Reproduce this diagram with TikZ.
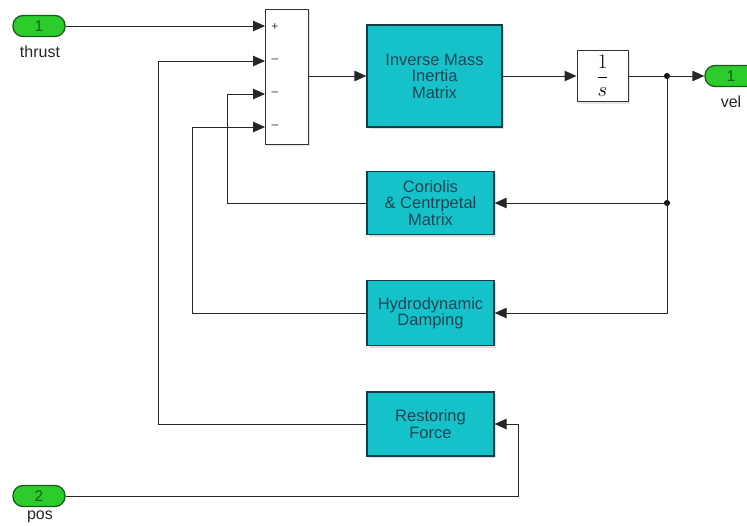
\documentclass[tikz,border=0pt]{standalone}
\usepackage{fontspec}
\setmainfont{Liberation Sans}
\usetikzlibrary{arrows.meta,shadows}
\definecolor{blkfill}{RGB}{22,194,202}
\definecolor{blkdraw}{RGB}{22,62,72}
\definecolor{blktext}{RGB}{26,70,84}
\definecolor{pillfill}{RGB}{44,204,44}
\definecolor{pilldraw}{RGB}{22,92,22}
\definecolor{pilltext}{RGB}{18,96,18}
\tikzset{
  blk/.style={draw=blkdraw, line width=1.3pt, fill=blkfill, text=blktext, align=center,
    inner sep=0pt, font=\fontsize{16.5}{16.5}\selectfont,
    drop shadow={opacity=0.25, shadow xshift=2pt, shadow yshift=-2pt}},
  wblk/.style={draw=black!80, line width=0.9pt, fill=white, inner sep=0pt,
    drop shadow={opacity=0.2, shadow xshift=2pt, shadow yshift=-2pt}},
  pill/.style={draw=pilldraw, line width=1.3pt, fill=pillfill, text=pilltext,
    rounded corners=10pt, minimum width=52pt, minimum height=21pt, inner sep=0pt,
    font=\fontsize{15.5}{15.5}\selectfont},
  lbl/.style={font=\fontsize{16}{16}\selectfont, text=black!85, inner sep=0pt},
  sgn/.style={font=\fontsize{12}{12}\selectfont, text=black!80, inner sep=0pt},
  wire/.style={draw=black!85, line width=0.9pt},
  arr/.style={wire, -{Triangle[length=12pt,width=10.5pt]}},
  bdot/.style={circle, fill=black, inner sep=0pt, minimum size=6pt}
}
\begin{document}
\begin{tikzpicture}[x=1pt,y=-1pt]
\useasboundingbox (0,0) rectangle (747,525);
\clip (0,0) rectangle (747,525);
% inports / outports
\node[pill] (in1) at (39,26) {1};
\node[lbl] (lthrust) at (40,52) {thrust};
\node[pill] (in2) at (39,496) {2};
\node[lbl] (lpos) at (40,517) {pos};
\node[pill] (out1) at (731,76) {1};
\node[lbl] (lvel) at (731,102) {vel};
% sum block
\node[wblk, minimum width=43pt, minimum height=135pt] (sum) at (286.5,76.5) {};
\coordinate (s1) at (265,26);
\coordinate (s2) at (265,61);
\coordinate (s3) at (265,94);
\coordinate (s4) at (265,127);
\coordinate (so) at (308,76);
\node[sgn] (p1) at (275,27) {+};
\node[sgn] (p2) at (275,61) {\textendash};
\node[sgn] (p3) at (275,94) {\textendash};
\node[sgn] (p4) at (275,127) {\textendash};
% main blocks
\node[blk, minimum width=135pt, minimum height=102pt] (inv) at (434.5,76) {Inverse Mass\\Inertia\\Matrix};
\node[wblk, minimum width=51pt, minimum height=51pt, font=\fontsize{21}{21}\selectfont] (integ) at (602.5,76) {$\displaystyle\frac{1}{s}$};
\node[bdot] (d1) at (667,76) {};
\node[bdot] (d2) at (667,203) {};
\node[blk, minimum width=127pt, minimum height=63pt] (cor) at (430.5,203) {Coriolis\\\& Centrpetal\\Matrix};
\node[blk, minimum width=127pt, minimum height=65pt] (hyd) at (430.5,313) {Hydrodynamic\\Damping};
\node[blk, minimum width=127pt, minimum height=64pt] (rest) at (430.5,424) {Restoring\\Force};
% connectors
\draw[arr] (in1.east) -- (s1);
\draw[arr] (so) -- (inv.west);
\draw[arr] (inv.east) -- (integ.west);
\draw[wire] (integ.east) -- (d1.center);
\draw[arr] (d1.center) -- (out1.west);
\draw[wire] (d1.center) -- (d2.center);
\draw[arr] (d2.center) -- (cor.east);
\draw[arr] (d2.center) -- (667,313) -- (hyd.east);
\draw[arr] (cor.west) -- (227,203) -- (227,94) -- (s3);
\draw[arr] (hyd.west) -- (192,313) -- (192,127) -- (s4);
\draw[arr] (rest.west) -- (158,424) -- (158,61) -- (s2);
\draw[arr] (in2.east) -- (518,496) -- (518,424) -- (rest.east);
\end{tikzpicture}
\end{document}
